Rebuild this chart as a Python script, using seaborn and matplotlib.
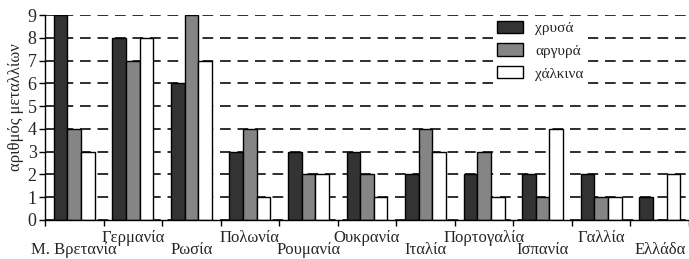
import numpy as np
import pandas as pd
import matplotlib
matplotlib.use("Agg")
import matplotlib.pyplot as plt
import seaborn as sns

# data
countries = ['Μ. Βρετανία', 'Γερμανία', 'Ρωσία', 'Πολωνία', 'Ρουμανία', 'Ουκρανία',
             'Ιταλία', 'Πορτογαλία', 'Ισπανία', 'Γαλλία', 'Ελλάδα']
gold   = [9, 8, 6, 3, 3, 3, 2, 2, 2, 2, 1]
silver = [4, 7, 9, 4, 2, 2, 4, 3, 1, 1, 0]
bronze = [3, 8, 7, 1, 2, 1, 3, 1, 4, 1, 2]
series_names = ['χρυσά', 'αργυρά', 'χάλκινα']
y_ticks = list(range(10))

df = pd.DataFrame({
    'χώρα': countries * 3,
    'μετάλλια': gold + silver + bronze,
    'είδος': [s for s in series_names for _ in countries],
})

sns.set_style("white")
plt.rcParams['font.family'] = ['Liberation Serif', 'DejaVu Serif']

fig = plt.figure(figsize=(6.89, 2.59), dpi=100)
ax = fig.add_axes([45/689, 1 - 220/259, 644/689, 205/259])

sns.barplot(data=df, x='χώρα', y='μετάλλια', hue='είδος',
            palette=['#333333', '#858585', '#ffffff'],
            edgecolor='black', linewidth=1.0, width=0.7, gap=0, ax=ax)

ax.set_axisbelow(True)
ax.yaxis.grid(True, color='#2e2e2e', linestyle=(0, (5.5, 3.5)), linewidth=1.4)
ax.xaxis.grid(False)

ax.set_ylim(0, 9)
ax.set_xlim(-0.5, len(countries) - 0.5)
ax.set_yticks(y_ticks)
ax.tick_params(axis='y', labelsize=13, length=4, width=1, pad=2, color='black', left=True)

# staggered country labels: odd ones on the upper row (main axis) ...
pos = np.arange(len(countries))
ax.set_xticks(pos[1::2])
ax.set_xticklabels(countries[1::2], fontsize=12)
ax.tick_params(axis='x', which='major', length=0, pad=7)
ax.set_xticks(np.arange(-0.5, len(countries), 1), minor=True)
ax.tick_params(axis='x', which='minor', length=4, width=1, color='black', bottom=True)

# ... even ones on the lower row (secondary axis)
sec = ax.secondary_xaxis('bottom')
sec.set_xticks(pos[0::2])
sec.set_xticklabels(countries[0::2], fontsize=12)
sec.tick_params(axis='x', length=0, pad=16)
sec.spines['bottom'].set_visible(False)

ax.set_xlabel('')
ax.set_ylabel('αριθμός μεταλλίων', fontsize=12)
ax.yaxis.set_label_coords(-0.032, 0.55)

for side in ['top', 'right']:
    ax.spines[side].set_visible(False)
for side in ['left', 'bottom']:
    ax.spines[side].set_color('black')
    ax.spines[side].set_linewidth(1.0)

leg = ax.legend(loc='upper left', bbox_to_anchor=(0.695, 0.995), fontsize=11,
                frameon=True, fancybox=False, framealpha=1, edgecolor='none',
                handlelength=1.7, handleheight=0.85, handletextpad=0.8,
                labelspacing=0.55, borderaxespad=0, borderpad=0.3)

fig.savefig('out.png', dpi=100)
